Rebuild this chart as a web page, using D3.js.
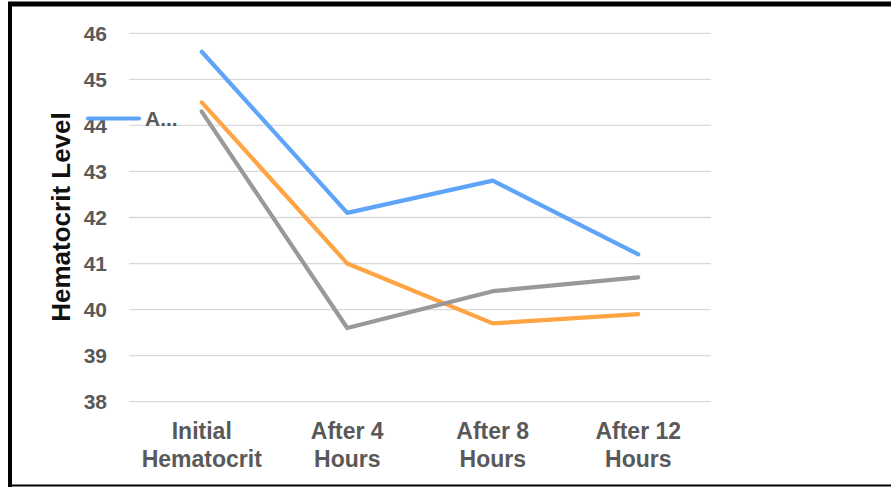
<!DOCTYPE html>
<html>
<head>
<meta charset="utf-8">
<script src="https://cdn.jsdelivr.net/npm/d3@7/dist/d3.min.js"></script>
<style>
  html, body { margin: 0; padding: 0; background: #fff; }
  svg { display: block; }
</style>
</head>
<body>
<svg id="chart" width="891" height="487"></svg>
<script>
// Hematocrit readings over time for three groups
const categories = ["Initial|Hematocrit", "After 4|Hours", "After 8|Hours", "After 12|Hours"];
const seriesA = [45.6, 42.1, 42.8, 41.2];
const seriesB = [44.5, 41.0, 39.7, 39.9];
const seriesC = [44.3, 39.6, 40.4, 40.7];
const yTicks = [38, 39, 40, 41, 42, 43, 44, 45, 46];
const legendLabel = "A...";

const series = [
  { values: seriesA, color: "#5EA4F8" },
  { values: seriesB, color: "#FFA443" },
  { values: seriesC, color: "#999999" }
];

const FONT = "Liberation Sans, Arial, sans-serif";
const svg = d3.select("#chart");
const W = 891, H = 487;

// frame
svg.append("rect").attr("x", 0).attr("y", 0).attr("width", W).attr("height", H).attr("fill", "#fff");
svg.append("line").attr("x1", 8).attr("x2", W).attr("y1", 4).attr("y2", 4)
  .attr("stroke", "#000").attr("stroke-width", 5);
svg.append("line").attr("x1", 10).attr("x2", 10).attr("y1", 2).attr("y2", H)
  .attr("stroke", "#000").attr("stroke-width", 4);
svg.append("line").attr("x1", 8).attr("x2", W).attr("y1", 485.5).attr("y2", 485.5)
  .attr("stroke", "#000").attr("stroke-width", 2);

const plot = { left: 129, right: 711, top: 33.3, bottom: 401.7 };

const x = d3.scaleBand().domain(categories).range([plot.left, plot.right]);
const y = d3.scaleLinear().domain([38, 46]).range([plot.bottom, plot.top]);

// gridlines
svg.append("g").selectAll("line").data(yTicks).join("line")
  .attr("x1", plot.left).attr("x2", plot.right)
  .attr("y1", d => y(d)).attr("y2", d => y(d))
  .attr("stroke", "#d9d9d9").attr("stroke-width", 1.3);

// y tick labels
svg.append("g").selectAll("text").data(yTicks).join("text")
  .attr("x", 107).attr("y", d => y(d)).attr("dy", "0.36em")
  .attr("text-anchor", "end")
  .attr("font-family", FONT)
  .attr("font-weight", "bold").attr("font-size", 21)
  .attr("fill", "#595959")
  .text(d => d);

// x category labels, two lines each
const xl = svg.append("g").selectAll("text").data(categories).join("text")
  .attr("text-anchor", "middle")
  .attr("font-family", FONT)
  .attr("font-weight", "bold").attr("font-size", 23)
  .attr("fill", "#595959");
xl.each(function(d) {
  const parts = d.split("|");
  const t = d3.select(this);
  parts.forEach((p, i) => {
    t.append("tspan")
      .attr("x", x(d) + x.bandwidth() / 2)
      .attr("y", 439 + i * 28)
      .text(p);
  });
});

// y axis title
svg.append("text")
  .attr("transform", `translate(70, 217) rotate(-90)`)
  .attr("text-anchor", "middle")
  .attr("font-family", FONT)
  .attr("font-weight", "bold").attr("font-size", 26)
  .attr("fill", "#111")
  .text("Hematocrit Level");

// series lines
const line = d3.line()
  .x((d, i) => x(categories[i]) + x.bandwidth() / 2)
  .y(d => y(d));

svg.append("g").selectAll("path").data(series).join("path")
  .attr("d", d => line(d.values))
  .attr("fill", "none")
  .attr("stroke", d => d.color)
  .attr("stroke-width", 4.2)
  .attr("stroke-linecap", "round")
  .attr("stroke-linejoin", "round");

// legend entry
svg.append("line")
  .attr("x1", 88).attr("x2", 139).attr("y1", 118.5).attr("y2", 118.5)
  .attr("stroke", series[0].color).attr("stroke-width", 4.2)
  .attr("stroke-linecap", "round");
svg.append("text")
  .attr("x", 145).attr("y", 118.5).attr("dy", "0.36em")
  .attr("font-family", FONT)
  .attr("font-weight", "bold").attr("font-size", 21)
  .attr("fill", "#595959")
  .text(legendLabel);
</script>
</body>
</html>
